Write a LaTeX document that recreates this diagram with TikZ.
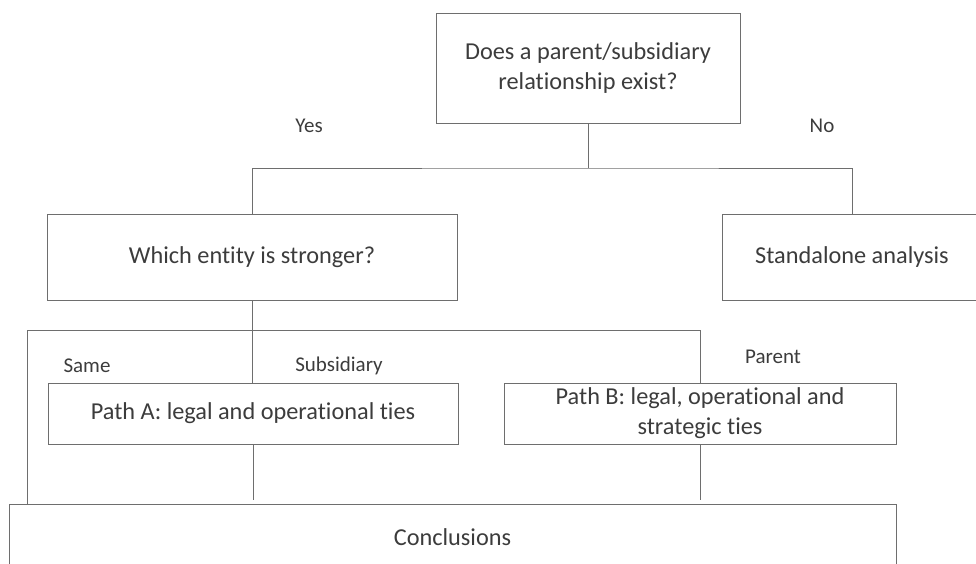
\documentclass[tikz,border=0pt]{standalone}
\usepackage{fontspec}
\setmainfont{Carlito}[Ligatures=NoCommon]
\definecolor{linegray}{RGB}{110,110,110}
\definecolor{textgray}{RGB}{60,60,60}
\begin{document}
\begin{tikzpicture}[x=1pt,y=-1pt,
  box/.style={draw=linegray, line width=0.9pt, rectangle, inner sep=0pt, align=center,
    font=\fontsize{24.3}{30}\selectfont, text=textgray},
  conn/.style={draw=linegray, line width=0.9pt},
  lbl/.style={inner sep=0pt, font=\fontsize{21}{24}\selectfont, text=textgray}]
\useasboundingbox (0,0) rectangle (976,564);
\clip (0,0) rectangle (976,564);
\node[box, minimum width=304pt, minimum height=110pt] (top) at (588,68) {Does a parent/subsidiary\\relationship exist?};
\node[box, minimum width=410pt, minimum height=86pt] (which) at (252,257) {Which entity is stronger?};
\node[box, minimum width=260pt, minimum height=86pt] (stand) at (852,257) {Standalone analysis};
\node[box, minimum width=410pt, minimum height=61pt] (pathA) at (253,413.5) {Path A: legal and operational ties};
\node[box, minimum width=392pt, minimum height=61pt] (pathB) at (700,413.5) {Path B: legal, operational and\\strategic ties};
\node[box, minimum width=887pt, minimum height=66pt] (concl) at (452.5,537) {Conclusions};
\coordinate (j1) at (588,168);
\coordinate (lft) at (27,330);
\draw[conn] (top.south) -- (j1);
\draw[conn] (which.north) |- (j1) -| (stand.north);
\draw[conn] (which.south) -- (which.south |- pathA.north);
\draw[conn] (concl.north -| lft) -- (lft) -| (pathB.north);
\draw[conn] (pathA.south) -- ([yshift=4pt]pathA.south |- concl.north);
\draw[conn] (pathB.south) -- ([yshift=4pt]pathB.south |- concl.north);
\node[lbl] (yes) at (309,126) {Yes};
\node[lbl] (no) at (822,126) {No};
\node[lbl] (same) at (87,366) {Same};
\node[lbl] (subs) at (339,366) {Subsidiary};
\node[lbl] (par) at (773,357) {Parent};
\end{tikzpicture}
\end{document}
